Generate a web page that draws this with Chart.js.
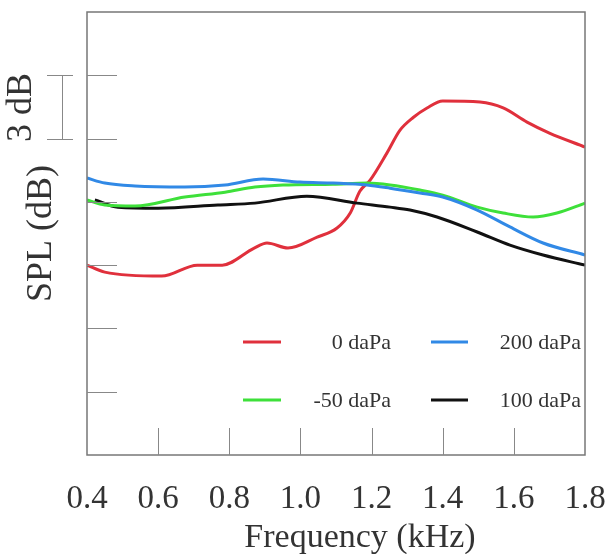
<!DOCTYPE html>
<html>
<head>
<meta charset="utf-8">
<script src="https://cdn.jsdelivr.net/npm/chart.js@4"></script>
<style>
html,body{margin:0;padding:0;background:#fff;}
#wrap{width:612px;height:554px;position:relative;}
</style>
</head>
<body>
<div id="wrap"><canvas id="c" width="612" height="554"></canvas></div>
<script>
// Tick labels / axis
const xTicks = [0.4, 0.6, 0.8, 1.0, 1.2, 1.4, 1.6, 1.8];
const yTicks = [3, 6, 9, 12, 15, 18];
const xTitle = 'Frequency (kHz)';
const yTitle = 'SPL (dB)';

// Series labels
const seriesLabels = ['0 daPa', '200 daPa', '-50 daPa', '100 daPa'];

// 0 daPa (red)
const freqRed = [0.40, 0.45, 0.61, 0.71, 0.78, 0.87, 0.906, 0.965, 1.047, 1.103, 1.14, 1.167, 1.196, 1.243, 1.28, 1.317, 1.356, 1.40, 1.505, 1.57, 1.637, 1.70, 1.80];
const splRed  = [9.0, 8.67, 8.48, 9.0, 9.0, 9.81, 10.05, 9.81, 10.33, 10.76, 11.47, 12.5, 13.03, 14.31, 15.4, 16.0, 16.45, 16.78, 16.73, 16.45, 15.78, 15.26, 14.6];

// 200 daPa (blue)
const freqBlue = [0.40, 0.45, 0.535, 0.675, 0.788, 0.895, 0.999, 1.092, 1.187, 1.252, 1.336, 1.40, 1.497, 1.589, 1.682, 1.80];
const splBlue  = [13.13, 12.89, 12.75, 12.7, 12.8, 13.08, 12.94, 12.89, 12.8, 12.65, 12.42, 12.23, 11.61, 10.81, 10.05, 9.48];

// -50 daPa (green)
const freqGreen = [0.40, 0.45, 0.535, 0.675, 0.788, 0.872, 0.951, 1.092, 1.187, 1.252, 1.336, 1.40, 1.497, 1.57, 1.654, 1.721, 1.80];
const splGreen  = [12.09, 11.85, 11.8, 12.23, 12.46, 12.7, 12.8, 12.84, 12.89, 12.8, 12.56, 12.32, 11.75, 11.47, 11.28, 11.47, 11.94];

// 100 daPa (black)
const freqBlack = [0.422, 0.487, 0.60, 0.768, 0.872, 1.018, 1.159, 1.252, 1.308, 1.384, 1.497, 1.589, 1.682, 1.80];
const splBlack  = [12.09, 11.75, 11.7, 11.85, 11.94, 12.27, 11.94, 11.75, 11.61, 11.28, 10.57, 9.95, 9.48, 9.0];

const colors = ['#e0303c', '#3189e6', '#3ee03a', '#111111'];
const SERIF = '"Liberation Serif", "Times New Roman", serif';
const TEXT = '#333333';
const AXIS = '#777777';

function pts(f, v) { return f.map((x, i) => ({x: x, y: v[i]})); }

const datasets = [
  {label: seriesLabels[1], data: pts(freqBlue, splBlue), borderColor: colors[1]},
  {label: seriesLabels[2], data: pts(freqGreen, splGreen), borderColor: colors[2]},
  {label: seriesLabels[3], data: pts(freqBlack, splBlack), borderColor: colors[3]},
  {label: seriesLabels[0], data: pts(freqRed, splRed), borderColor: colors[0]}
].map(d => Object.assign(d, {borderWidth: 3, pointRadius: 0, fill: false, cubicInterpolationMode: 'monotone'}));

const decor = {
  id: 'decor',
  afterDatasetsDraw(chart) {
    const ctx = chart.ctx;
    const ca = chart.chartArea;
    const xs = chart.scales.x, ys = chart.scales.y;
    ctx.save();
    // frame
    ctx.strokeStyle = AXIS;
    ctx.lineWidth = 1.5;
    ctx.strokeRect(ca.left, ca.top, ca.right - ca.left, ca.bottom - ca.top);
    // inner ticks
    ctx.lineWidth = 1;
    ctx.strokeStyle = '#888888';
    ctx.beginPath();
    xTicks.slice(1, -1).forEach(t => {
      const px = Math.round(xs.getPixelForValue(t)) + 0.5;
      ctx.moveTo(px, ca.bottom);
      ctx.lineTo(px, ca.bottom - 27);
    });
    yTicks.forEach(t => {
      const py = Math.round(ys.getPixelForValue(t)) + 0.5;
      ctx.moveTo(ca.left, py);
      ctx.lineTo(ca.left + 30, py);
    });
    // 3 dB scale bar
    const y1 = Math.round(ys.getPixelForValue(18)) + 0.5;
    const y2 = Math.round(ys.getPixelForValue(15)) + 0.5;
    ctx.moveTo(62.5, y1); ctx.lineTo(62.5, y2);
    ctx.moveTo(47, y1); ctx.lineTo(73, y1);
    ctx.moveTo(47, y2); ctx.lineTo(73, y2);
    ctx.stroke();
    ctx.fillStyle = TEXT;
    ctx.font = '36px ' + SERIF;
    ctx.textAlign = 'center';
    ctx.textBaseline = 'middle';
    ctx.save();
    ctx.translate(22, (y1 + y2) / 2);
    ctx.rotate(-Math.PI / 2);
    ctx.fillText('3 dB', 0, 0);
    ctx.restore();
    // x-axis title (offset right as in the original)
    ctx.font = '34px ' + SERIF;
    ctx.fillText(xTitle, 360, 538);
    // legend
    const entries = [
      {label: seriesLabels[0], color: colors[0], x1: 243, x2: 281, tx: 391, y: 342},
      {label: seriesLabels[1], color: colors[1], x1: 431, x2: 468, tx: 581, y: 342},
      {label: seriesLabels[2], color: colors[2], x1: 243, x2: 281, tx: 391, y: 400},
      {label: seriesLabels[3], color: colors[3], x1: 431, x2: 468, tx: 581, y: 400}
    ];
    ctx.font = '22px ' + SERIF;
    ctx.textAlign = 'right';
    entries.forEach(e => {
      ctx.strokeStyle = e.color;
      ctx.lineWidth = 3;
      ctx.beginPath();
      ctx.moveTo(e.x1, e.y); ctx.lineTo(e.x2, e.y);
      ctx.stroke();
      ctx.fillStyle = TEXT;
      ctx.fillText(e.label, e.tx, e.y + 1);
    });
    ctx.restore();
  }
};

new Chart(document.getElementById('c'), {
  type: 'line',
  data: {datasets: datasets},
  options: {
    responsive: false,
    animation: false,
    layout: {padding: {left: 0, right: 27, top: 12, bottom: 0}},
    plugins: {legend: {display: false}, tooltip: {enabled: false}},
    scales: {
      x: {
        type: 'linear', min: 0.4, max: 1.8,
        afterBuildTicks(s) { s.ticks = xTicks.map(v => ({value: v})); },
        afterFit(s) { s.height = 99; s.paddingLeft = 0; s.paddingRight = 0; },
        grid: {display: false, drawTicks: false},
        border: {display: false},
        ticks: {
          color: TEXT, padding: 25, maxRotation: 0, autoSkip: false,
          font: {family: SERIF, size: 33},
          callback: v => Number(v).toFixed(1)
        },
        title: {display: false}
      },
      y: {
        type: 'linear', min: 0, max: 21,
        afterBuildTicks(s) { s.ticks = yTicks.map(v => ({value: v})); },
        afterFit(s) { s.width = 87; s.paddingTop = 0; s.paddingBottom = 0; },
        grid: {display: false, drawTicks: false},
        border: {display: false},
        ticks: {display: false},
        title: {display: true, text: yTitle, color: TEXT,
          font: {family: SERIF, size: 36, lineHeight: 1}, padding: {top: 24, bottom: 0}}
      }
    }
  },
  plugins: [decor]
});
</script>
</body>
</html>
